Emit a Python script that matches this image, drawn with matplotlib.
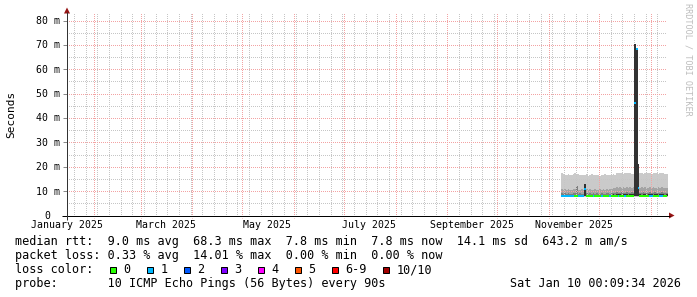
"""
Smokeping rtt graph, last 360 days
"""
# %%
# imports
import numpy as np
import pandas as pd
import matplotlib
matplotlib.use("Agg")
import matplotlib.pyplot as plt
import matplotlib.dates as mdates
import matplotlib.transforms as mtrans
from matplotlib.patches import Rectangle, Polygon

# %%
# def's
W, H, DPI = 697, 297, 100
PX = 72.0 / DPI            # one pixel in points
X0, Y0 = 67.0, 215.5       # plot origin (px, from top)
XSIZE = 600.0              # plot width (px)
PX_PER_MS = 2.4375         # 195 px for 80 ms
YTOP = 83.0
MONO = "DejaVu Sans Mono"

START = pd.Timestamp("2025-01-15 19:00")
END = START + pd.Timedelta(days=360)
FIRST_DAY = pd.Timestamp("2025-11-08 04:00")

# %%
# data, one value per day (ms)
p10 = [17.5, 17.2, 16.8, 16.6, 16.9, 16.5, 16.8, 17.1,
       17.3, 17.2, 16.9, 16.7, 16.5, 16.8, 16.6, 16.9,
       16.4, 16.7, 16.9, 16.6, 16.8, 16.5, 16.7, 16.4,
       16.8, 16.6, 16.9, 16.5, 16.7, 16.8, 16.6, 16.9,
       16.7, 17.3, 17.5, 17.4, 17.6, 17.2, 17.5, 17.3,
       17.6, 17.4, 17.2, 17.0, 70.5, 68.8, 21.0, 17.3,
       17.5, 17.2, 17.6, 17.4, 17.3, 17.5, 17.1, 17.4,
       17.6, 17.3, 17.2, 17.5, 17.4, 17.3, 17.1, 17.2]
p9 = [10.8, 10.5, 10.9, 10.4, 10.7, 10.6, 10.3, 10.8,
      10.9, 12.0, 10.6, 10.5, 10.8, 10.4, 13.0, 10.7,
      10.5, 10.8, 10.6, 10.4, 10.9, 10.6, 10.5, 10.7,
      10.4, 10.8, 10.6, 10.9, 10.5, 10.7, 11.0, 11.3,
      11.2, 11.5, 11.4, 11.6, 11.3, 11.5, 11.2, 11.6,
      11.4, 11.5, 11.3, 11.6, 70.5, 68.8, 21.0, 11.4,
      11.6, 11.3, 11.5, 11.2, 11.4, 11.6, 11.3, 11.5,
      11.4, 11.2, 11.6, 11.3, 11.5, 11.4, 11.2, 11.3]
p8 = [9.1, 9.0, 9.2, 8.9, 9.1, 9.0, 8.9, 9.2,
      9.1, 12.0, 9.0, 9.1, 8.9, 9.0, 13.0, 9.1,
      9.0, 9.2, 8.9, 9.1, 9.0, 9.2, 8.9, 9.0,
      9.1, 8.9, 9.0, 9.2, 9.1, 9.0, 9.3, 9.4,
      9.3, 9.5, 9.4, 9.3, 9.5, 9.4, 9.2, 9.5,
      9.3, 9.4, 9.5, 9.3, 70.5, 68.8, 21.0, 9.4,
      9.3, 9.5, 9.4, 9.2, 9.3, 9.5, 9.4, 9.3,
      9.5, 9.2, 9.4, 9.3, 9.5, 9.4, 9.3, 9.2]
p7 = [8.5, 8.4, 8.6, 8.5, 8.4, 8.5, 8.6, 8.5,
      8.5, 8.6, 8.5, 8.4, 8.5, 8.6, 13.0, 8.5,
      8.4, 8.5, 8.6, 8.5, 8.4, 8.5, 8.5, 8.6,
      8.5, 8.4, 8.5, 8.6, 8.5, 8.5, 8.6, 8.7,
      8.6, 8.7, 8.8, 8.7, 8.6, 8.7, 8.8, 8.7,
      8.6, 8.7, 8.8, 8.7, 70.5, 68.8, 21.0, 8.7,
      8.6, 8.7, 8.8, 8.6, 8.7, 8.8, 8.7, 8.6,
      8.7, 8.8, 8.6, 8.7, 8.8, 8.7, 8.6, 8.7]
med = [8.1, 8.0, 8.1, 8.0, 7.9, 8.0, 8.1, 8.0,
       8.0, 8.1, 8.0, 8.1, 8.0, 8.0, 10.8, 8.1,
       8.0, 7.9, 8.0, 8.1, 8.0, 8.0, 7.9, 8.0,
       8.1, 8.0, 8.0, 7.9, 8.0, 8.1, 8.0, 8.1,
       8.0, 8.1, 8.2, 8.1, 8.0, 8.1, 8.2, 8.1,
       8.0, 8.1, 8.1, 8.0, 46.0, 68.3, 11.2, 8.1,
       8.0, 8.1, 8.2, 8.1, 8.0, 8.1, 8.2, 8.1,
       8.0, 8.1, 8.0, 8.1, 8.2, 8.1, 8.0, 8.1]
p3 = [7.8, 7.8, 7.9, 7.8, 7.7, 7.8, 7.9, 7.8,
      7.8, 7.9, 7.8, 7.8, 7.7, 7.8, 7.9, 7.8,
      7.8, 7.7, 7.8, 7.9, 7.8, 7.8, 7.7, 7.8,
      7.9, 7.8, 7.8, 7.7, 7.8, 7.9, 7.8, 7.9,
      7.8, 7.9, 7.9, 7.8, 7.8, 7.9, 7.9, 7.8,
      7.8, 7.9, 7.8, 7.8, 7.9, 7.9, 7.8, 7.8,
      7.8, 7.9, 7.9, 7.8, 7.8, 7.9, 7.9, 7.8,
      7.8, 7.9, 7.8, 7.8, 7.9, 7.8, 7.8, 7.9]
p1 = [7.5, 7.4, 7.5, 7.6, 7.4, 7.5, 7.5, 7.4,
      7.5, 7.6, 7.5, 7.4, 7.5, 7.5, 7.6, 7.4,
      7.5, 7.4, 7.5, 7.6, 7.5, 7.4, 7.5, 7.5,
      7.6, 7.5, 7.4, 7.5, 7.5, 7.6, 7.5, 7.4,
      7.5, 7.6, 7.5, 7.5, 7.4, 7.5, 7.6, 7.5,
      7.5, 7.4, 7.5, 7.6, 7.5, 7.5, 7.4, 7.5,
      7.6, 7.5, 7.5, 7.4, 7.5, 7.6, 7.5, 7.5,
      7.4, 7.5, 7.6, 7.5, 7.5, 7.4, 7.5, 7.6]
# lost pings out of 10
loss = [1, 1, 1, 1, 1, 1, 1, 1,
        0, 0, 1, 1, 1, 1, 1, 0,
        0, 0, 0, 1, 0, 0, 0, 0,
        1, 0, 0, 0, 0, 1, 0, 0,
        0, 0, 1, 0, 0, 0, 1, 0,
        0, 0, 0, 0, 1, 1, 1, 0,
        0, 0, 0, 0, 0, 1, 1, 0,
        0, 0, 0, 1, 1, 0, 0, 0]

LOSS_LABELS = ["0", "1", "2", "3", "4", "5", "6-9", "10/10"]
LOSS_COLORS = ["#26ff00", "#00b8ff", "#0059ff", "#7e00ff",
               "#ff00ff", "#ff5500", "#ff0000", "#a10000"]
SMOKE_COLORS = ["#cacaca", "#a4a4a4", "#7e7e7e", "#323232"]

Y_TICKS = [0, 10, 20, 30, 40, 50, 60, 70, 80]
Y_MINOR = [5, 15, 25, 35, 45, 55, 65, 75]
X_LABEL_DATES = ["2025-01-16", "2025-03-16", "2025-05-16",
                 "2025-07-16", "2025-09-16", "2025-11-16"]
X_LABELS = ["January 2025", "March 2025", "May 2025",
            "July 2025", "September 2025", "November 2025"]

LEGEND_ROWS = [
    "median rtt:  9.0 ms avg  68.3 ms max  7.8 ms min  7.8 ms now  14.1 ms sd  643.2 m am/s",
    "packet loss: 0.33 % avg  14.01 % max  0.00 % min  0.00 % now",
    "loss color:",
    "probe:       10 ICMP Echo Pings (56 Bytes) every 90s",
]
STAMP = "Sat Jan 10 00:09:34 2026"

# %%
# figure + plot area
fig = plt.figure(figsize=(W / DPI, H / DPI), dpi=DPI)
fig.patch.set_facecolor("white")
ax = fig.add_axes([X0 / W, (H - Y0) / H, XSIZE / W, YTOP * PX_PER_MS / H])
ax.set_xlim(mdates.date2num(START), mdates.date2num(END))
ax.set_ylim(0, YTOP)
for s in ax.spines.values():
    s.set_visible(False)
ax.set_xticks([])
ax.set_yticks(Y_TICKS)
ax.tick_params(axis="y", direction="out", length=4 * PX, width=PX,
               color="#8a8a8a", labelleft=False)

days = mdates.date2num(
    (FIRST_DAY + pd.to_timedelta(np.arange(len(med)), unit="D")).to_pydatetime())
edges = np.append(days, days[-1] + 1)


def ext(a):
    return np.append(a, a[-1])


# smoke, outer band to inner band (the darkest one goes over the grid)
bands = [(p1, p10), (p3, p9), (p3, p8), (p3, p7)]
band_z = [1.0, 1.1, 1.2, 3.0]
for k, (lo, hi) in enumerate(bands):
    ax.fill_between(edges, ext(lo), ext(hi), step="post", color=SMOKE_COLORS[k],
                    lw=0, zorder=band_z[k])

# grid, dotted 1px on / 1px off; half pixel dash offset keeps dots on whole pixels
weeks = pd.date_range("2025-01-20", END, freq="W-MON").to_pydatetime()
months = pd.date_range("2025-02-01", END, freq="MS").to_pydatetime()
DOT = (0.5, (1, 1))
GRID_C = "#c6c6c6"
MGRID_C = "#f3a3a3"
for d in weeks:
    ax.axvline(mdates.date2num(d), color=GRID_C, lw=PX, ls=DOT, zorder=2.5, snap=True)
for v in Y_MINOR:
    ax.axhline(v, color=GRID_C, lw=PX, ls=DOT, zorder=2.5, snap=True)
for d in months:
    ax.axvline(mdates.date2num(d), ymin=-2.5 / (YTOP * PX_PER_MS), color=MGRID_C,
               lw=PX, ls=DOT, zorder=2.6, clip_on=False, snap=True)
for v in Y_TICKS[1:]:
    ax.axhline(v, color=MGRID_C, lw=PX, ls=DOT, zorder=2.6, snap=True)

# median coloured by loss
ax.hlines(med, days, days + 1, colors=[LOSS_COLORS[l] for l in loss],
          lw=2 * PX, zorder=3.5)

# %%
# overlay in pixel coords for axes, arrows and texts
ov = fig.add_axes([0, 0, 1, 1], zorder=10)
ov.set_xlim(0, W)
ov.set_ylim(H, 0)
ov.axis("off")

ov.plot([61.5, 670], [Y0, Y0], color="black", lw=PX, solid_capstyle="butt")
ov.plot([X0, X0], [220, 12], color="#333333", lw=PX, solid_capstyle="butt")
ov.add_patch(Polygon([[669, 212.5], [674.5, Y0], [669, 218.5]], closed=True,
                     color="#961414", lw=0))
ov.add_patch(Polygon([[64, 13.5], [X0, 7.5], [70, 13.5]], closed=True,
                     color="#961414", lw=0))

y_trans = mtrans.offset_copy(mtrans.blended_transform_factory(ov.transData, ax.transData),
                             fig=fig, y=-3.4, units="dots")
for v in Y_TICKS:
    ov.text(60.5 if v else 50.0, v, f"{v} m" if v else "0", transform=y_trans,
            ha="right", va="baseline", family=MONO, size=7.1)

x_trans = mtrans.blended_transform_factory(ax.transData, ov.transData)
for d, lab in zip(X_LABEL_DATES, X_LABELS):
    ov.text(mdates.date2num(pd.Timestamp(d).to_pydatetime()), 227.5, lab,
            transform=x_trans, ha="center", va="baseline", family=MONO, size=7.1)

ov.text(11, 114, "Seconds", rotation=90, ha="center", va="center",
        family=MONO, size=8)
ov.text(688, 59, "RRDTOOL / TOBI OETIKER", rotation=270, ha="center",
        va="center", family=MONO, size=6.1, color="#bdbdbd")

# legend
baselines = [245.4, 259.3, 273.3, 286.9]
for row, yb in zip(LEGEND_ROWS, baselines):
    ov.text(15.3, yb, row, ha="left", va="baseline", family=MONO, size=8.5)
ov.text(680.5, baselines[3], STAMP, ha="right", va="baseline", family=MONO, size=8.5)

box_x = [109, 146, 183, 220, 257, 294, 331, 382]
for bx, lab, col in zip(box_x, LOSS_LABELS, LOSS_COLORS):
    ov.add_patch(Rectangle((bx + 0.5, 266.5), 6, 6, facecolor=col,
                           edgecolor="black", lw=PX))
    ov.text(bx + 14.3, baselines[2], lab, ha="left", va="baseline",
            family=MONO, size=8.5)

fig.savefig("out.png", dpi=DPI, facecolor="white")
